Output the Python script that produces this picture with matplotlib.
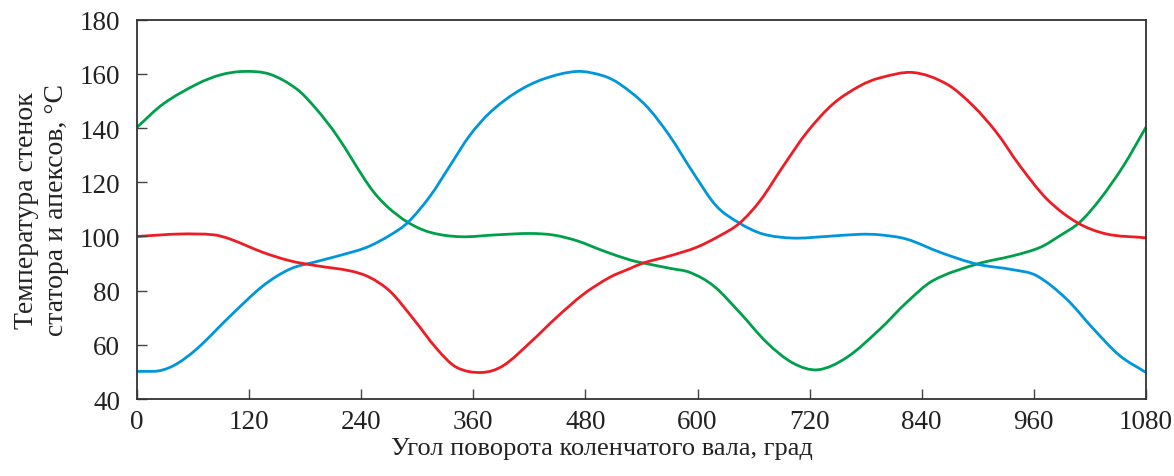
import numpy as np
import matplotlib
matplotlib.use("Agg")
import matplotlib.pyplot as plt
from matplotlib.path import Path
from matplotlib.patches import PathPatch

# Data (crank angle, deg ; temperature, °C)
green_x = [0, 28, 64, 89, 114, 142, 171, 192, 214, 249, 267, 290, 314, 346, 385, 421,
           446, 471, 499, 528, 542, 571, 592, 617, 645, 674, 702, 729, 760, 795, 824,
           852, 899, 938, 967, 988, 1009, 1031, 1056, 1080]
green_y = [140.3, 148.9, 156.2, 159.6, 160.9, 159.9, 154.4, 147.0, 137.2, 118.4, 111.3,
           105.2, 101.5, 99.9, 100.6, 101.1, 100.5, 98.4, 94.7, 91.3, 90.2, 88.2, 86.7,
           81.8, 72.0, 60.9, 53.3, 50.8, 55.4, 65.7, 75.7, 83.7, 89.8, 92.9, 96.0, 100.3,
           105.2, 113.8, 126.1, 140.3]

blue_x = [0, 17, 39, 64, 100, 135, 164, 192, 235, 250, 271, 290, 314, 335, 356, 378,
          406, 435, 471, 499, 517, 545, 570, 595, 620, 645, 670, 702, 738, 774, 795,
          824, 860, 899, 938, 963, 995, 1024, 1052, 1080]
blue_y = [50.2, 50.2, 52.3, 58.5, 70.7, 81.8, 88.0, 90.7, 94.7, 96.6, 100.5, 105.2,
          115.0, 126.1, 137.2, 145.8, 153.2, 158.1, 160.9, 159.3, 156.2, 148.2, 137.2,
          123.7, 111.3, 104.9, 100.9, 99.4, 100.0, 100.8, 100.6, 99.0, 94.1, 89.8, 87.7,
          85.5, 76.9, 65.8, 56.0, 49.8]

red_x = [0, 46, 82, 100, 135, 164, 192, 228, 249, 271, 296, 321, 342, 369, 392, 421,
         449, 478, 506, 528, 542, 571, 599, 624, 645, 667, 692, 717, 745, 774, 795,
         831, 867, 895, 920, 945, 974, 1006, 1038, 1080]
red_y = [100.0, 100.9, 100.6, 99.0, 94.1, 91.0, 89.2, 87.3, 84.9, 79.7, 69.5, 58.5,
         51.7, 49.8, 52.3, 60.9, 70.1, 78.7, 84.9, 88.2, 90.2, 92.9, 96.0, 100.3, 104.9,
         113.2, 126.1, 138.4, 148.9, 155.6, 158.5, 160.5, 156.2, 148.2, 138.4, 126.1,
         113.8, 105.2, 100.9, 99.5]

x_ticks = [0, 120, 240, 360, 480, 600, 720, 840, 960, 1080]
y_ticks = [40, 60, 80, 100, 120, 140, 160, 180]

x_label = "Угол поворота коленчатого вала, град"
y_label = "Температура стенок\nстатора и апексов, °С"

plt.rcParams['font.family'] = ['Liberation Serif', 'DejaVu Serif']

fig = plt.figure(figsize=(11.74, 4.77), dpi=100)
ax = fig.add_axes([0.1167, 0.1614, 0.8594, 0.7952])


def smooth_path(xs, ys):
    """Cubic Hermite curve (centred-difference slopes) through the read points."""
    x = np.asarray(xs, float)
    y = np.asarray(ys, float)
    h = np.diff(x)
    d = np.diff(y) / h
    n = len(x)
    m = np.zeros(n)
    m[0] = d[0]
    m[-1] = d[-1]
    for i in range(1, n - 1):
        if d[i - 1] == 0 or d[i] == 0:
            m[i] = 0.0
        else:
            m[i] = (y[i + 1] - y[i - 1]) / (x[i + 1] - x[i - 1])
    verts = [(x[0], y[0])]
    codes = [Path.MOVETO]
    for i in range(n - 1):
        verts.append((x[i] + h[i] / 3, y[i] + m[i] * h[i] / 3))
        verts.append((x[i + 1] - h[i] / 3, y[i + 1] - m[i + 1] * h[i] / 3))
        verts.append((x[i + 1], y[i + 1]))
        codes += [Path.CURVE4] * 3
    return Path(verts, codes)


for xs, ys, col in [(green_x, green_y, '#00a04a'),
                    (blue_x, blue_y, '#0096db'),
                    (red_x, red_y, '#ee1d25')]:
    patch = PathPatch(smooth_path(xs, ys), facecolor='none', edgecolor=col,
                      lw=2.0, capstyle='round', joinstyle='round')
    ax.add_patch(patch)

ax.set_xlim(0, 1080)
ax.set_ylim(40, 180)
ax.set_xticks(x_ticks)
ax.set_yticks(y_ticks)
ax.tick_params(direction='in', length=7, width=1.0, color='#444444',
               labelsize=19.5, labelcolor='#222222')
ax.tick_params(axis='y', pad=12)
ax.tick_params(axis='x', pad=7.5)
for s in ax.spines.values():
    s.set_linewidth(1.3)
    s.set_color('#333333')

ax.set_xlabel(x_label, fontsize=19, color='#222222')
ax.xaxis.set_label_coords(0.461, -0.099, transform=ax.transAxes)
ax.xaxis.label.set_verticalalignment('top')
ax.set_ylabel(y_label, fontsize=20, color='#222222', labelpad=8, linespacing=1.25)

fig.savefig("out.png", dpi=100)
